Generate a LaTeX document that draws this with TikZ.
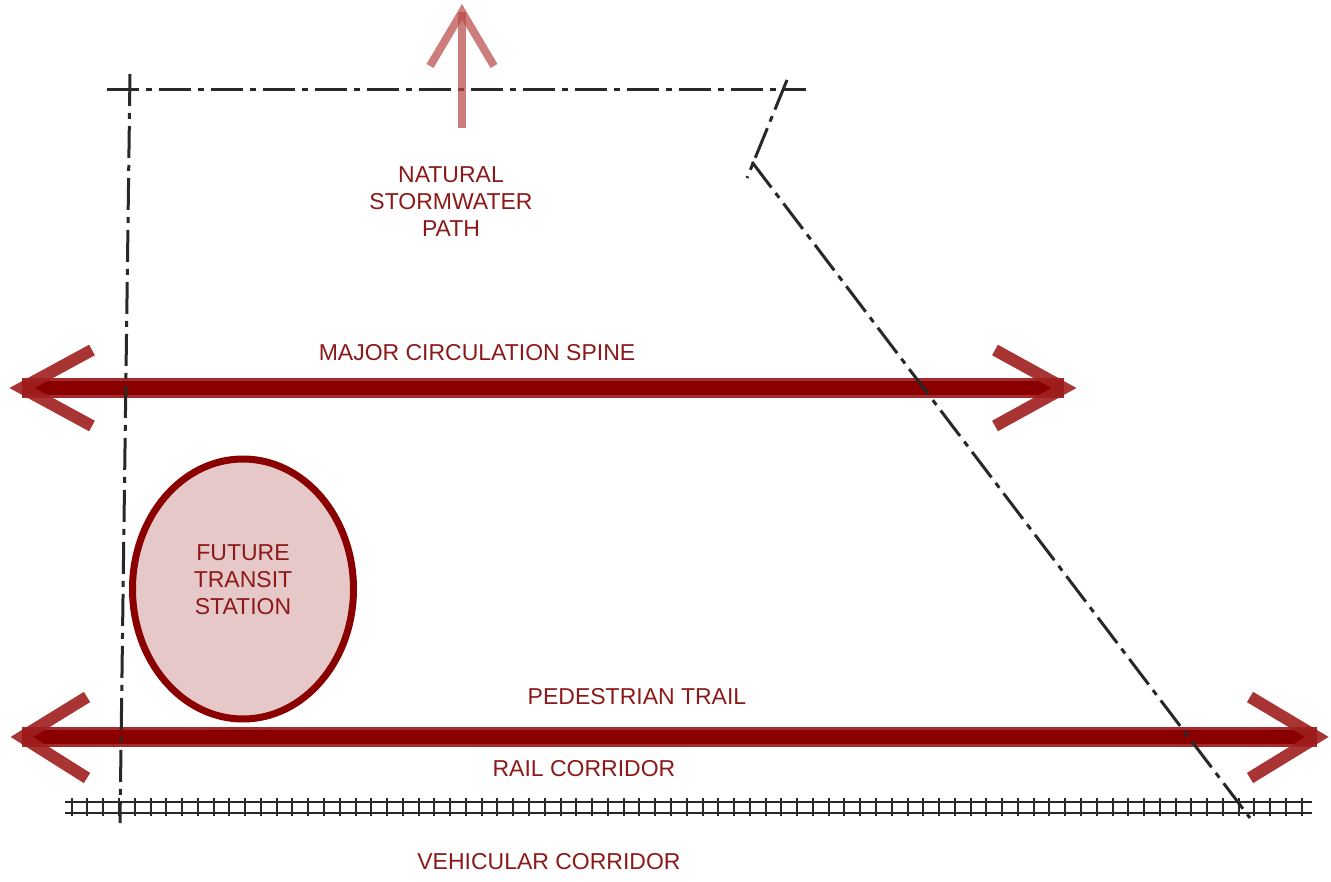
\documentclass[tikz,border=0pt]{standalone}
\usepackage{fontspec}
\setmainfont{Liberation Sans}
\usetikzlibrary{shapes.geometric}
\definecolor{txtred}{RGB}{140,25,25}
\definecolor{barred}{RGB}{138,0,0}
\definecolor{armred}{RGB}{160,30,30}
\definecolor{edgered}{RGB}{155,25,25}
\definecolor{upred}{RGB}{185,70,70}
\definecolor{fillpink}{RGB}{230,200,200}
\definecolor{linegray}{RGB}{40,40,40}
\begin{document}
\begin{tikzpicture}[x=1pt,y=-1pt,
 lbl/.style={text=txtred, font=\fontsize{23}{27}\selectfont, align=center, inner sep=0pt},
 boundary/.style={draw=linegray, line width=3pt, dash pattern=on 32pt off 7pt on 6pt off 7pt},
 baredge/.style={line width=20pt, draw=edgered, opacity=0.92},
 barcore/.style={line width=14pt, draw=barred},
 arm/.style={line width=12pt, draw=armred, opacity=0.9, line cap=butt, line join=miter},
 upshaft/.style={line width=8pt, draw=upred, opacity=0.7},
 rail/.style={draw=linegray, line width=2pt},
 tie/.style={draw=linegray, line width=2pt},
 station/.style={ellipse, draw=barred, fill=fillpink, line width=7pt, minimum width=221pt, minimum height=260pt, inner sep=0pt},
]
\useasboundingbox (0,0) rectangle (1331,882);

% rail corridor tracks
\coordinate (r1a) at (65,801.5); \coordinate (r1b) at (1312,801.5);
\coordinate (r2a) at (65,812.5); \coordinate (r2b) at (1312,812.5);
\draw[rail] (r1a) -- (r1b);
\draw[rail] (r2a) -- (r2b);
\foreach \i in {0,...,78} \draw[tie] ({71.7+\i*15.77},798) -- ++(0,18);

% future transit station
\node[station] (ell) at (243,589) {};

% major circulation spine
\coordinate (sL) at (22,388); \coordinate (sR) at (1064,388);
\coordinate (sLu) at (92,350); \coordinate (sLd) at (92,426);
\coordinate (sRu) at (995,350); \coordinate (sRd) at (995,426);
\draw[baredge] (sL) -- (sR);
\draw[barcore] (sL) -- (sR);
\draw[arm] (sLu) -- (sL) -- (sLd);
\draw[arm] (sRu) -- (sR) -- (sRd);

% pedestrian trail
\coordinate (pL) at (22,737); \coordinate (pR) at (1317,737);
\coordinate (pLu) at (87,697); \coordinate (pLd) at (87,778);
\coordinate (pRu) at (1250,697); \coordinate (pRd) at (1250,778);
\draw[baredge] (pL) -- (pR);
\draw[barcore] (pL) -- (pR);
\draw[arm] (pLu) -- (pL) -- (pLd);
\draw[arm] (pRu) -- (pR) -- (pRd);

% site boundary
\coordinate (vTop) at (130,74); \coordinate (vBot) at (120,823);
\coordinate (hL) at (107,90); \coordinate (hR) at (806,90);
\coordinate (kTop) at (787,80); \coordinate (kBot) at (747,178);
\coordinate (dTop) at (752,162); \coordinate (dBot) at (1250,818);
\draw[boundary] (vTop) -- (vBot);
\draw[boundary] (hL) -- (hR);
\draw[boundary] (kTop) -- (kBot);
\draw[boundary] (dTop) -- (dBot);

% natural stormwater path arrow
\coordinate (uBase) at (462,128); \coordinate (uTip) at (462,12);
\coordinate (uL) at (430,66); \coordinate (uR) at (494,66);
\draw[upshaft] (uBase) -- (uTip);
\draw[upshaft, line join=miter] (uL) -- (uTip) -- (uR);

% labels
\node[lbl] (storm) at (451,202) {NATURAL\\STORMWATER\\PATH};
\node[lbl] (spine) at (477,353) {MAJOR CIRCULATION SPINE};
\node[lbl] (stationlbl) at (243,580) {FUTURE\\TRANSIT\\STATION};
\node[lbl] (ped) at (637,697) {PEDESTRIAN TRAIL};
\node[lbl] (railc) at (584,769) {RAIL CORRIDOR};
\node[lbl] (veh) at (549,862) {VEHICULAR CORRIDOR};
\end{tikzpicture}
\end{document}
